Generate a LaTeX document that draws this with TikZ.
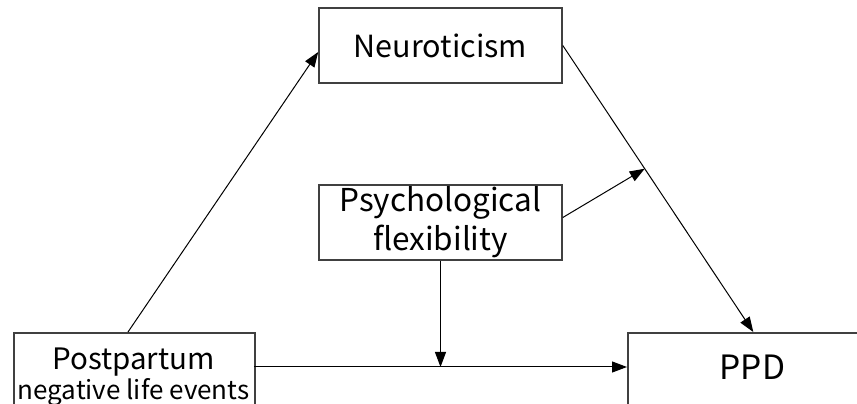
\documentclass[tikz,border=0pt]{standalone}
\usepackage{fontspec}
\setmainfont{Noto Sans CJK SC}
\usetikzlibrary{arrows.meta,calc}
\begin{document}
\begin{tikzpicture}[x=1pt,y=1pt,
  box/.style={draw=black!75,line width=1.6pt,inner sep=0pt,fill=white},
  lbl/.style={inner sep=0pt,font=\fontsize{30.5}{32}\selectfont},
  conn/.style={line width=1pt,-{Triangle[length=15pt,width=11pt]}}]
\useasboundingbox (0,0) rectangle (857,404);
\clip (0,0) rectangle (857,404);
\node[box,minimum width=243pt,minimum height=75pt] (neuro) at (440.5,358.5) {};
\node[lbl] (neurot) at (neuro.center) {Neuroticism};
\node[box,minimum width=243pt,minimum height=75pt] (psych) at (440.5,181.5) {};
\node[lbl,align=center,font=\fontsize{31.5}{39}\selectfont] (psycht) at (psych.center) {Psychological\\flexibility};
\node[box,minimum width=241pt,minimum height=90pt,anchor=north west] (pp) at (13,72) {};
\node[lbl,font=\fontsize{29.5}{32}\selectfont] (ppt1) at (133.5,42) {Postpartum};
\node[lbl,font=\fontsize{26}{28}\selectfont] (ppt2) at (133.5,12) {negative life events};
\node[box,minimum width=251pt,minimum height=85pt,anchor=north west] (ppd) at (627,72) {};
\node[lbl,font=\fontsize{33.5}{36}\selectfont] (ppdt) at (752.5,37) {PPD};
\coordinate (a0) at ($(pp.north west)+(115,0)$);
\coordinate (a1) at ($(neuro.west)+(0,-6.5)$);
\draw[conn] (a0) -- (a1);
\draw[conn] (neuro.east) -- (ppd.north);
\coordinate (m) at ($(neuro.east)!0.43!(ppd.north)$);
\coordinate (p0) at ($(psych.east)+(0,5)$);
\draw[conn] (p0) -- (m);
\coordinate (h1) at (254,37);
\coordinate (h2) at (627,37);
\draw[conn] (h1) -- (h2);
\draw[conn] (psych.south) -- (psych.south |- h1);
\end{tikzpicture}
\end{document}
